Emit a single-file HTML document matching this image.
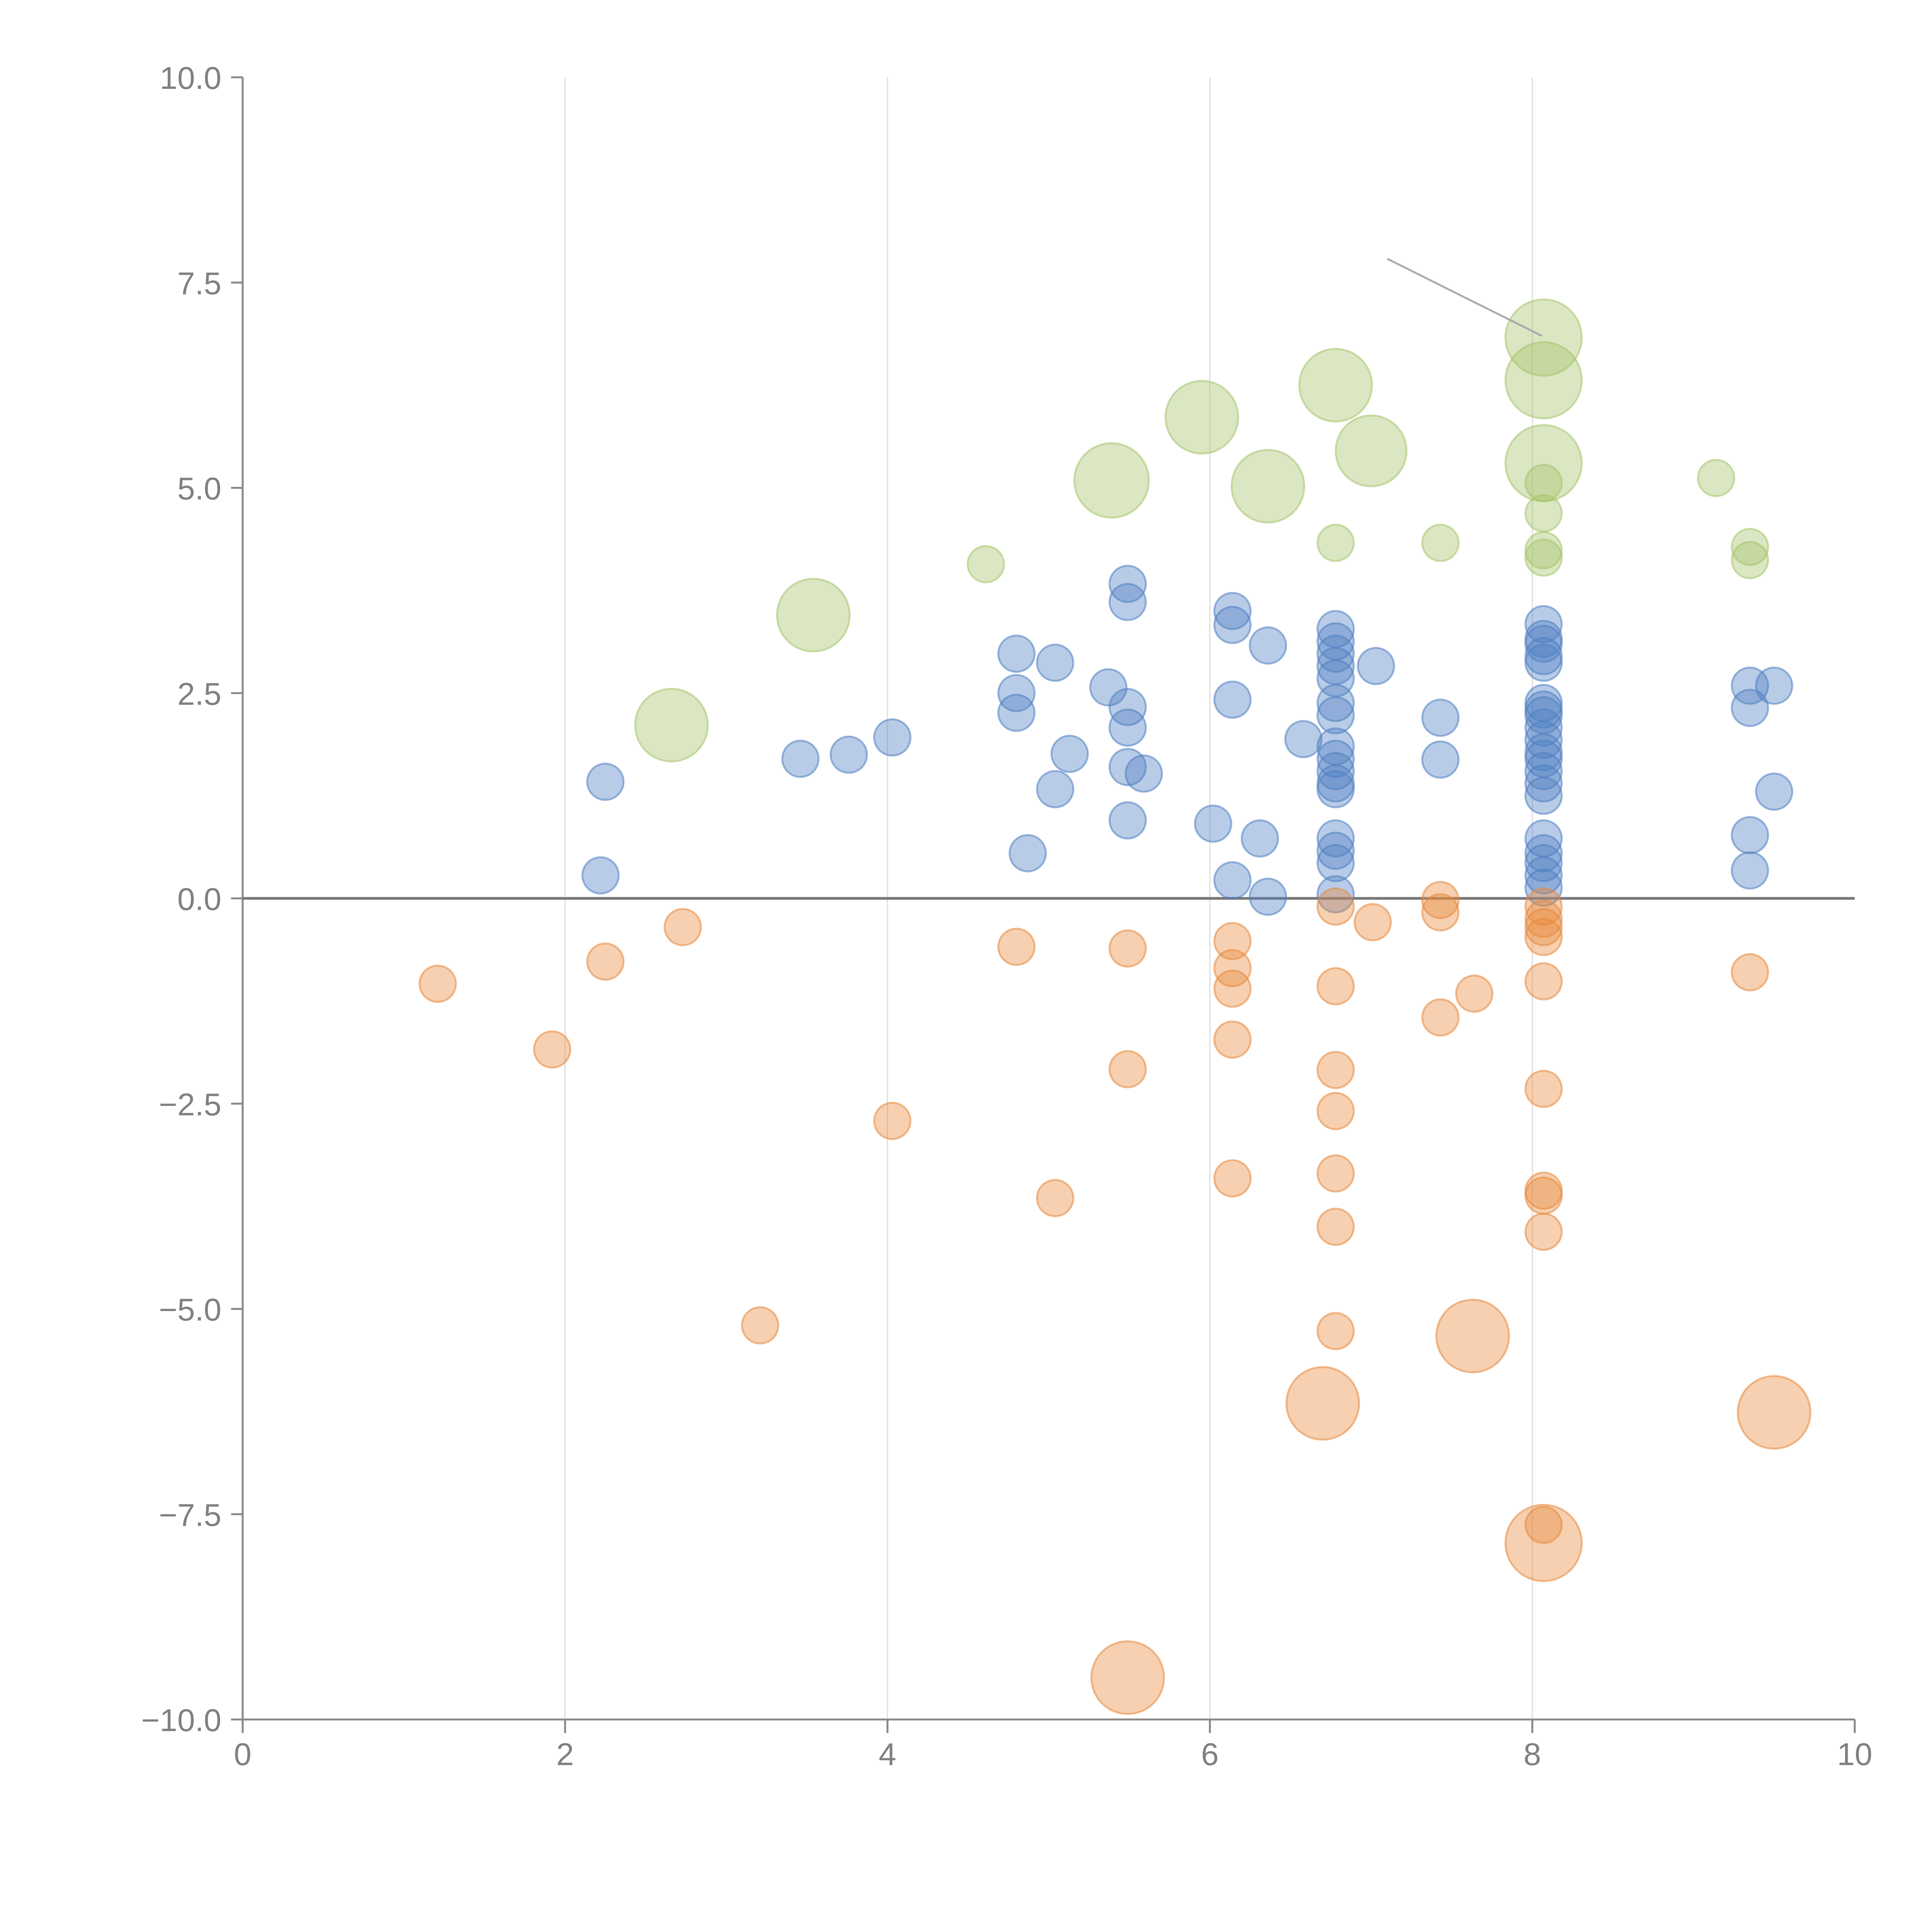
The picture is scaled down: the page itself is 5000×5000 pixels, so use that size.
<!DOCTYPE html>
<html><head><meta charset="utf-8"><style>
html,body{margin:0;padding:0;background:#fff;}
svg{display:block;font-family:"Liberation Sans",Arial,sans-serif;}
</style></head><body>
<svg id="chart" width="5000" height="5000" viewBox="0 0 5000 5000" xmlns="http://www.w3.org/2000/svg">
<g id="grid"></g>
<g id="axes"></g>
<g id="marks"></g>
</svg>
<script>
const xTicks=[0,2,4,6,8,10];
const yTicks=[-10,-7.5,-5,-2.5,0,2.5,5,7.5,10];
const yTickLabels=["\u221210.0","\u22127.5","\u22125.0","\u22122.5","0.0","2.5","5.0","7.5","10.0"];
const greenX=[2.66,3.54,4.61,5.39,5.95,6.36,6.78,7.0,6.78,7.43,8.07,8.07,8.07,8.07,8.07,8.07,8.07,9.14,9.35,9.35];
const greenY=[2.11,3.45,4.07,5.09,5.86,5.02,6.25,5.45,4.33,4.33,6.83,6.31,5.30,5.06,4.69,4.24,4.15,5.12,4.28,4.12];
const greenS=[2,2,1,2.05,2,2,2,1.95,1,1,2.1,2.1,2.1,1,1,1,1,1,1,1];
const blueX=[2.25,2.22,3.46,3.76,4.03,4.80,4.80,4.80,4.87,5.04,5.04,5.13,5.37,5.49,5.49,5.49,5.49,5.49,5.59,5.49,6.02,6.14,6.14,6.14,6.14,6.31,6.36,6.36,6.58,
6.78,6.78,6.78,6.78,6.78,6.78,6.78,6.78,6.78,6.78,6.78,6.78,6.78,6.78,6.78,6.78,7.03,7.43,7.43,
8.07,8.07,8.07,8.07,8.07,8.07,8.07,8.07,8.07,8.07,8.07,8.07,8.07,8.07,8.07,8.07,8.07,8.07,8.07,8.07,
9.35,9.35,9.50,9.50,9.35,9.35];
const blueY=[1.42,0.28,1.70,1.75,1.96,2.98,2.50,2.26,0.55,2.87,1.33,1.76,2.57,3.83,3.61,2.33,2.08,1.60,1.52,0.95,0.91,3.50,3.33,2.42,0.22,0.73,3.08,0.02,1.94,
3.28,3.13,2.98,2.83,2.68,2.38,2.23,1.85,1.70,1.55,1.40,1.33,0.73,0.58,0.43,0.05,2.83,2.20,1.69,
3.34,3.16,3.10,2.95,2.87,2.38,2.30,2.23,2.08,1.93,1.78,1.70,1.55,1.40,1.25,0.73,0.55,0.43,0.28,0.13,
2.59,2.32,2.59,1.30,0.77,0.34];
const orangeX=[1.21,1.92,2.25,2.73,3.21,4.03,4.80,5.04,5.49,5.49,5.49,6.14,6.14,6.14,6.14,6.14,6.70,6.78,6.78,6.78,6.78,6.78,6.78,6.78,7.01,7.43,7.43,7.43,7.64,7.63,8.07,8.07,8.07,8.07,8.07,8.07,8.07,8.07,8.07,8.07,8.07,9.35,9.50];
const orangeY=[-1.04,-1.84,-0.77,-0.35,-5.20,-2.71,-0.59,-3.65,-0.61,-2.08,-9.49,-0.52,-0.85,-1.10,-1.72,-3.41,-6.15,-0.10,-1.07,-2.09,-2.59,-3.35,-4.00,-5.27,-0.29,-0.02,-0.17,-1.45,-1.16,-5.33,-0.10,-0.25,-0.35,-0.47,-1.01,-2.32,-3.56,-3.62,-4.06,-7.63,-7.85,-0.90,-6.26];
const orangeS=[1,1,1,1,1,1,1,1,1,1,2,1,1,1,1,1,2,1,1,1,1,1,1,1,1,1,1,1,1,2,1,1,1,1,1,1,1,1,1,1,2.1,1,2];
const annoX=[7.1,8.06];
const annoY=[7.79,6.85];

const X0=628,X1=4800,Y0=4450,Y1=200;
const sx=v=>X0+(v-0)/(10-0)*(X1-X0);
const sy=v=>Y0-(v+10)/20*(Y0-Y1);
const R=47;
const NS="http://www.w3.org/2000/svg";
function mk(tag,attrs,parent){const e=document.createElementNS(NS,tag);for(const k in attrs)e.setAttribute(k,attrs[k]);parent.appendChild(e);return e;}
const grid=document.getElementById('grid'),axes=document.getElementById('axes'),marks=document.getElementById('marks');

[2,4,6,8].forEach(v=>{
  const l=mk('line',{x1:sx(v),x2:sx(v),y1:Y1,y2:Y0,stroke:'#dddddd','stroke-width':3},grid);
  
  
});
let a=mk('line',{x1:X0,x2:X0,y1:Y1,y2:Y0,stroke:'#888','stroke-width':5},axes);


a=mk('line',{x1:X0,x2:X1,y1:Y0,y2:Y0,stroke:'#888','stroke-width':5},axes);


xTicks.forEach(v=>{
  const t=mk('line',{x1:sx(v),x2:sx(v),y1:Y0,y2:Y0+35,stroke:'#888','stroke-width':5},axes);
  
  
  const tx=mk('text',{x:sx(v),y:4568,'text-anchor':'middle','font-size':82,fill:'#808080'},axes);
  tx.textContent=String(v);
  
  
});
yTicks.forEach((v,i)=>{
  const t=mk('line',{x1:X0-30,x2:X0,y1:sy(v),y2:sy(v),stroke:'#888','stroke-width':5},axes);
  
  
  const tx=mk('text',{x:X0-55,y:sy(v)+30,'text-anchor':'end','font-size':82,fill:'#808080'},axes);
  tx.textContent=yTickLabels[i];
  
  
});
const zl=mk('line',{x1:X0,x2:X1,y1:sy(0),y2:sy(0),stroke:'#777','stroke-width':7},axes);



function series(xs,ys,ss,color,name){
  xs.forEach((x,i)=>{
    const c=mk('circle',{cx:sx(x),cy:sy(ys[i]),r:R*(ss?ss[i]:1),fill:color,'fill-opacity':0.4,stroke:color,'stroke-opacity':0.55,'stroke-width':5},marks);
    
    
  });
}
series(greenX,greenY,greenS,'#a6c46a','green-bubble');
series(blueX,blueY,null,'#4f7fc2','blue-bubble');
series(orangeX,orangeY,orangeS,'#e8893c','orange-bubble');
const an=mk('line',{x1:sx(annoX[0]),y1:sy(annoY[0]),x2:sx(annoX[1]),y2:sy(annoY[1]),stroke:'#aaa','stroke-width':5},marks);


</script>
</body></html>
